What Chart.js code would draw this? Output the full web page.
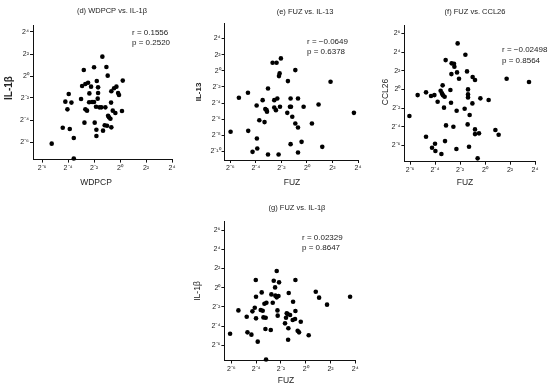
<!DOCTYPE html>
<html>
<head>
<meta charset="utf-8">
<script src="https://cdn.jsdelivr.net/npm/chart.js@4.4.1/dist/chart.umd.min.js"></script>
<style>
  html, body { margin: 0; padding: 0; background: #fff; }
  #wrap { position: relative; width: 550px; height: 390px; }
  #wrap canvas { position: absolute; left: 0; top: 0; }
</style>
</head>
<body>
<div id="wrap">
  <canvas id="chartD" width="550" height="390"></canvas>
  <canvas id="chartE" width="550" height="390"></canvas>
  <canvas id="chartF" width="550" height="390"></canvas>
  <canvas id="chartG" width="550" height="390"></canvas>
</div>
<script>
// values are log2 exponents
const wdpcpX = [-5.26,-4.41,-3.87,-3.56,-3.56,-4.21,-3.95,-4.05,-3.74,-3.0,-2.92,-2.79,-2.74,-2.67,-2.67,-2.54,-2.46,-2.36,-2.38,-2.23,-2.15,-2.0,-2.0,-1.95,-1.85,-1.82,-1.82,-1.79,-1.72,-1.69,-1.69,-1.59,-1.44,-1.36,-1.31,-1.18,-1.13,-1.05,-1.0,-0.95,-0.92,-0.85,-0.74,-0.67,-0.69,-0.67,-0.56,-0.46,-0.36,-0.28,-0.15,-0.08,0.15,0.21];
const il1bY_d = [-6.15,-4.70,-4.82,-5.64,-7.5,-2.33,-1.64,-3.03,-2.42,-2.09,-0.91,0.55,-4.24,-0.73,-3.03,-3.15,-0.61,-1.58,-2.39,-0.97,-2.36,0.79,-2.36,-4.24,-2.79,-4.88,-5.45,-0.45,-2.06,-1.55,-1.03,-2.85,-2.85,1.76,-4.97,-4.48,-2.85,0.82,-4.52,0.03,-3.61,-3.76,-3.88,-4.67,-2.42,-1.39,-3.15,-1.12,-3.36,-0.97,-1.55,-1.73,-3.18,-0.42];

const fuzX_e = [-5.98,-5.33,-4.62,-4.60,-4.26,-3.94,-3.92,-3.89,-3.73,-3.47,-3.32,-3.26,-3.16,-3.13,-3.05,-3.05,-2.69,-2.56,-2.56,-2.43,-2.38,-2.32,-2.22,-2.19,-2.14,-2.11,-2.04,-1.54,-1.49,-1.33,-1.28,-1.25,-1.28,-1.15,-0.91,-0.91,-0.70,-0.70,-0.70,-0.42,-0.26,0.39,0.91,1.20,1.85,3.68];
const il13Y = [-7.56,-3.35,-2.73,-7.44,-10.04,-4.30,-8.39,-9.63,-6.12,-3.64,-6.36,-4.75,-4.88,-5.08,-2.19,-10.37,0.99,-3.64,-4.55,-4.88,0.99,-3.43,-10.37,-0.66,-0.33,-4.46,1.53,-5.21,-1.28,-4.46,-3.43,-4.46,-9.09,-5.70,0.08,-6.53,-3.43,-7.02,-10.12,-8.80,-4.46,-6.53,-4.17,-9.42,-1.36,-5.21];

const fuzX_f = [-6.05,-5.39,-4.72,-4.72,-4.32,-4.24,-4.05,-4.0,-3.97,-3.79,-3.55,-3.49,-3.44,-3.39,-3.36,-3.28,-3.23,-3.2,-3.15,-3.12,-2.77,-2.72,-2.69,-2.67,-2.53,-2.48,-2.45,-2.29,-2.27,-2.24,-2.19,-2.08,-1.63,-1.57,-1.44,-1.39,-1.36,-1.36,-1.36,-1.28,-1.23,-1.01,-0.99,-0.8,-0.8,-0.8,-0.59,-0.48,-0.37,0.29,0.83,1.09,1.73,3.52];
const ccl26Y = [-2.86,-0.61,-0.32,-5.07,-0.71,-6.25,-0.61,-5.82,-6.61,-1.32,-0.14,-6.93,-0.43,0.43,-0.64,-1.96,-0.79,-5.54,3.14,-3.86,-0.07,-1.43,1.64,2.79,-4.0,2.75,2.43,-6.39,-2.29,1.82,4.93,1.14,-2.07,3.71,1.93,-3.75,0.0,-0.54,-0.86,-6.14,-2.75,-1.5,1.32,1.0,-4.29,-4.79,-7.39,-4.71,-0.96,-1.14,-4.36,-4.86,1.14,0.79];

const fuzX_g = [-6.1,-5.43,-4.76,-4.7,-4.38,-4.3,-4.11,-4.03,-4.01,-4.01,-3.87,-3.63,-3.55,-3.47,-3.41,-3.33,-3.25,-3.23,-3.2,-3.17,-2.82,-2.77,-2.66,-2.58,-2.47,-2.45,-2.34,-2.34,-2.28,-2.26,-2.2,-2.15,-1.67,-1.59,-1.53,-1.45,-1.42,-1.37,-1.4,-1.26,-1.05,-1.02,-0.86,-0.83,-0.83,-0.65,-0.54,-0.4,0.24,0.81,1.08,1.72,3.58];
const il1bY_g = [-4.8,-2.37,-3.03,-4.66,-4.9,-2.47,-2.09,0.8,-0.94,-3.2,-5.63,-2.33,-0.49,-2.4,-3.1,-1.67,-4.31,-3.13,-7.5,-1.57,-4.42,-0.7,-1.57,0.73,0.03,-0.83,1.74,-1.01,-2.37,-2.92,-0.87,0.56,-3.72,-3.13,-2.68,-2.75,-5.43,-0.56,-4.24,-2.85,-3.37,-1.46,-3.27,-2.43,0.8,-4.49,-4.66,-3.55,-4.97,-0.42,-1.04,-1.77,-0.94];

const xTicks = [-6, -4, -2, 0, 2, 4];
const yTicksD = [-6, -4, -2, 0, 2, 4];
const yTicksE = [-10, -8, -6, -4, -2, 0, 2, 4];
const yTicksF = [-6, -4, -2, 0, 2, 4, 6];
const yTicksG = [-6, -4, -2, 0, 2, 4, 6];

const rValues = ['0.1556', '\u22120.0649', '\u22120.02498', '0.02329'];
const pValues = ['0.2520', '0.6378', '0.8564', '0.8647'];

const FONT = '"Liberation Sans", Arial, sans-serif';
const SUP = {'-': '\u207B', '0': '\u2070', '1': '\u00B9', '2': '\u00B2', '3': '\u00B3', '4': '\u2074',
             '5': '\u2075', '6': '\u2076', '7': '\u2077', '8': '\u2078', '9': '\u2079'};

function pow2Label(v) {
    return '2' + String(v).split('').map(c => SUP[c] || c).join('');
}

function textPlugin(items) {
    return {
        id: 'panelText',
        afterDraw(chart) {
            const ctx = chart.ctx;
            items.forEach(t => {
                ctx.save();
                ctx.font = t.font;
                ctx.fillStyle = '#222';
                ctx.textAlign = t.align || 'center';
                ctx.textBaseline = 'middle';
                ctx.translate(t.x, t.y);
                if (t.rotate) ctx.rotate(-Math.PI / 2);
                ctx.fillText(t.text, 0, 0);
                ctx.restore();
            });
        }
    };
}

const Y_W = 28, X_H = 20;

function axisOpts(min, max, ticks, isX) {
    return {
        type: 'linear',
        min: min,
        max: max,
        afterBuildTicks: s => { s.ticks = ticks.map(v => ({ value: v })); },
        afterFit: s => {
            if (isX) { s.height = X_H; s.paddingLeft = 0; s.paddingRight = 0; }
            else { s.width = Y_W; s.paddingTop = 0; s.paddingBottom = 0; }
        },
        grid: { display: true, drawOnChartArea: false, drawTicks: true, tickLength: 3, color: '#111', lineWidth: 1 },
        border: { display: true, color: '#111', width: 1 },
        ticks: {
            callback: pow2Label,
            autoSkip: false,
            maxRotation: 0,
            padding: 1,
            color: '#222',
            font: { family: FONT, size: 7 }
        }
    };
}

function makePanel(id, xs, ys, box, yTicks, texts) {
    const points = xs.map((x, i) => ({ x: x, y: ys[i] }));
    new Chart(document.getElementById(id), {
        type: 'scatter',
        data: {
            datasets: [{
                data: points,
                pointRadius: 2.3,
                pointBackgroundColor: '#000',
                pointBorderWidth: 0,
                clip: 4
            }]
        },
        options: {
            responsive: false,
            animation: false,
            events: [],
            layout: {
                padding: {
                    left: box.L - Y_W,
                    top: box.T,
                    right: 550 - box.R,
                    bottom: 390 - box.B - X_H
                }
            },
            plugins: { legend: { display: false }, tooltip: { enabled: false } },
            scales: {
                x: axisOpts(box.xMin, 4, xTicks, true),
                y: axisOpts(box.yMin, box.yMax, yTicks, false)
            }
        },
        plugins: [textPlugin(texts)]
    });
}

const titleFont = '7.5px ' + FONT;
const statFont = '8px ' + FONT;
const axFont = '8.5px ' + FONT;

makePanel('chartD', wdpcpX, il1bY_d,
    { L: 33, R: 172, T: 25.4, B: 159.6, xMin: -6.7, yMin: -7.6, yMax: 4.6 }, yTicksD, [
    { text: '(d) WDPCP vs. IL-1\u03B2', x: 112, y: 11, font: titleFont },
    { text: 'r = ' + rValues[0], x: 132, y: 33, font: statFont, align: 'left' },
    { text: 'p = ' + pValues[0], x: 132, y: 43, font: statFont, align: 'left' },
    { text: 'WDPCP', x: 96, y: 183, font: axFont },
    { text: 'IL-1\u03B2', x: 9, y: 88, font: 'bold 10px ' + FONT, rotate: true }
]);

makePanel('chartE', fuzX_e, il13Y,
    { L: 224.6, R: 358, T: 23.1, B: 160, xMin: -6.45, yMin: -11.05, yMax: 5.9 }, yTicksE, [
    { text: '(e) FUZ vs. IL-13', x: 305, y: 12, font: titleFont },
    { text: 'r = ' + rValues[1], x: 307, y: 42, font: statFont, align: 'left' },
    { text: 'p = ' + pValues[1], x: 307, y: 52, font: statFont, align: 'left' },
    { text: 'FUZ', x: 292, y: 183, font: axFont },
    { text: 'IL-13', x: 199, y: 92, font: 'bold 8px ' + FONT, rotate: true }
]);

makePanel('chartF', fuzX_f, ccl26Y,
    { L: 404.4, R: 535, T: 25, B: 161.7, xMin: -6.45, yMin: -7.75, yMax: 6.9 }, yTicksF, [
    { text: '(f) FUZ vs. CCL26', x: 475, y: 12, font: titleFont },
    { text: 'r = ' + rValues[2], x: 502, y: 50, font: statFont, align: 'left' },
    { text: 'p = ' + pValues[2], x: 502, y: 61, font: statFont, align: 'left' },
    { text: 'FUZ', x: 465, y: 183, font: axFont },
    { text: 'CCL26', x: 386, y: 92, font: axFont, rotate: true }
]);

makePanel('chartG', fuzX_g, il1bY_g,
    { L: 224.4, R: 355.3, T: 221.6, B: 360.5, xMin: -6.56, yMin: -7.6, yMax: 6.9 }, yTicksG, [
    { text: '(g) FUZ vs. IL-1\u03B2', x: 297, y: 208, font: titleFont },
    { text: 'r = ' + rValues[3], x: 302, y: 238, font: statFont, align: 'left' },
    { text: 'p = ' + pValues[3], x: 302, y: 248, font: statFont, align: 'left' },
    { text: 'FUZ', x: 286, y: 381, font: axFont },
    { text: 'IL-1\u03B2', x: 198, y: 291, font: axFont, rotate: true }
]);
</script>
</body>
</html>
